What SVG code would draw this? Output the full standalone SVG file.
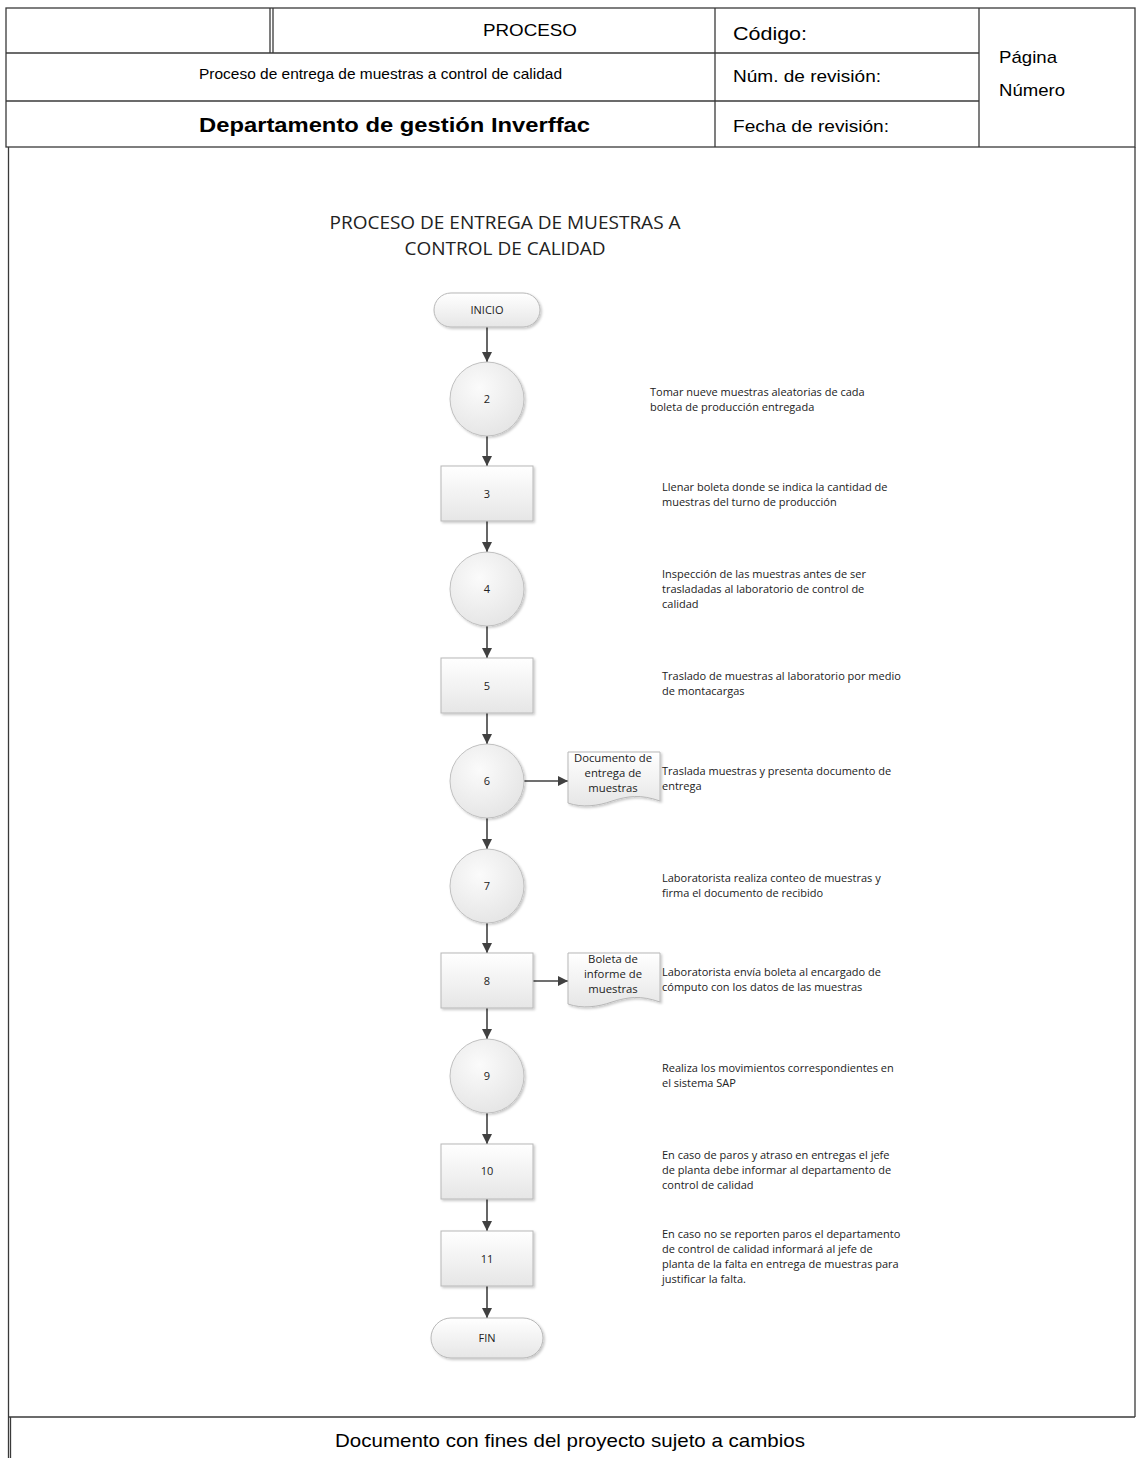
<svg xmlns="http://www.w3.org/2000/svg" width="1137" height="1458" viewBox="0 0 1137 1458">
  <defs>
    <linearGradient id="shapeFill" x1="0" y1="0" x2="0" y2="1">
      <stop offset="0" stop-color="#ffffff"/>
      <stop offset="1" stop-color="#e6e6e6"/>
    </linearGradient>
    <radialGradient id="circleFill" cx="0.4" cy="0.35" r="0.75">
      <stop offset="0" stop-color="#fbfbfb"/>
      <stop offset="1" stop-color="#e3e3e3"/>
    </radialGradient>
    <filter id="shadow" x="-20%" y="-20%" width="150%" height="150%">
      <feDropShadow dx="1.5" dy="1.5" stdDeviation="1" flood-color="#000" flood-opacity="0.22"/>
    </filter>
    <marker id="arrow" viewBox="0 0 10 10" refX="10" refY="5" markerWidth="10" markerHeight="10" markerUnits="userSpaceOnUse" orient="auto">
      <path d="M0,0 L10,5 L0,10 z" fill="#404040"/>
    </marker>
  </defs>
  <style>
    .grid { fill: none; stroke: #3a3a3a; stroke-width: 1.3; }
    .hdr { font-family: "Liberation Sans", Arial, sans-serif; fill: #000; }
    .node { fill: url(#shapeFill); stroke: #b8b8b8; stroke-width: 1; filter: url(#shadow); }
    .circ { fill: url(#circleFill); stroke: #c0c0c0; stroke-width: 1; filter: url(#shadow); }
    .lbl { font-family: "Open Sans", "Liberation Sans", sans-serif; font-size: 11px; fill: #222; text-anchor: middle; }
    .doclbl { font-family: "Open Sans", "Liberation Sans", sans-serif; font-size: 11.3px; fill: #222; text-anchor: middle; }
    .desc { font-family: "Open Sans", "Liberation Sans", sans-serif; font-size: 11px; fill: #222; }
    .title { font-family: "Open Sans", "Liberation Sans", sans-serif; font-size: 19px; fill: #222; text-anchor: middle; }
    .conn { stroke: #404040; stroke-width: 1.6; fill: none; marker-end: url(#arrow); }
  </style>

  <rect width="1137" height="1458" fill="#ffffff"/>

  <!-- Header table -->
  <g id="header">
    <rect class="grid" x="6" y="8" width="1129" height="139"/>
    <line class="grid" x1="6" y1="53" x2="979" y2="53"/>
    <line class="grid" x1="6" y1="101" x2="979" y2="101"/>
    <line class="grid" x1="270" y1="8" x2="270" y2="53"/>
    <line class="grid" x1="273" y1="8" x2="273" y2="53"/>
    <line class="grid" x1="715" y1="8" x2="715" y2="147"/>
    <line class="grid" x1="979" y1="8" x2="979" y2="147"/>
    <text class="hdr" x="483" y="36" font-size="17" textLength="94" lengthAdjust="spacingAndGlyphs">PROCESO</text>
    <text class="hdr" x="199" y="79" font-size="15" textLength="363" lengthAdjust="spacingAndGlyphs">Proceso de entrega de muestras a control de calidad</text>
    <text class="hdr" x="199" y="132" font-size="20" font-weight="bold" textLength="391" lengthAdjust="spacingAndGlyphs">Departamento de gestión Inverffac</text>
    <text class="hdr" x="733" y="40" font-size="19" textLength="74" lengthAdjust="spacingAndGlyphs">Código:</text>
    <text class="hdr" x="733" y="82" font-size="17" textLength="148" lengthAdjust="spacingAndGlyphs">Núm. de revisión:</text>
    <text class="hdr" x="733" y="132" font-size="17" textLength="156" lengthAdjust="spacingAndGlyphs">Fecha de revisión:</text>
    <text class="hdr" x="999" y="63" font-size="17" textLength="58" lengthAdjust="spacingAndGlyphs">Página</text>
    <text class="hdr" x="999" y="96" font-size="17" textLength="66" lengthAdjust="spacingAndGlyphs">Número</text>
  </g>

  <!-- Body frame and footer -->
  <g id="frame">
    <line class="grid" x1="8.5" y1="147" x2="8.5" y2="1458"/>
    <line class="grid" x1="10.5" y1="1417" x2="10.5" y2="1458" stroke="#888"/>
    <line class="grid" x1="1135" y1="147" x2="1135" y2="1417"/>
    <line class="grid" x1="8.5" y1="1417" x2="1135" y2="1417"/>
    <text class="hdr" x="335" y="1447" font-size="19" textLength="470" lengthAdjust="spacingAndGlyphs">Documento con fines del proyecto sujeto a cambios</text>
  </g>

  <!-- Title -->
  <g id="title">
    <text class="title" x="505" y="229">PROCESO DE ENTREGA DE MUESTRAS A</text>
    <text class="title" x="505" y="255">CONTROL DE CALIDAD</text>
  </g>

  <!-- Connectors -->
  <g id="connectors">
    <line class="conn" x1="487" y1="327" x2="487" y2="362"/>
    <line class="conn" x1="487" y1="436" x2="487" y2="466"/>
    <line class="conn" x1="487" y1="521" x2="487" y2="552"/>
    <line class="conn" x1="487" y1="626" x2="487" y2="658"/>
    <line class="conn" x1="487" y1="713" x2="487" y2="744"/>
    <line class="conn" x1="487" y1="818" x2="487" y2="849"/>
    <line class="conn" x1="487" y1="923" x2="487" y2="953"/>
    <line class="conn" x1="487" y1="1008" x2="487" y2="1039"/>
    <line class="conn" x1="487" y1="1113" x2="487" y2="1144"/>
    <line class="conn" x1="487" y1="1199" x2="487" y2="1231"/>
    <line class="conn" x1="487" y1="1286" x2="487" y2="1318"/>
    <line class="conn" x1="524" y1="781" x2="568" y2="781"/>
    <line class="conn" x1="533" y1="981" x2="568" y2="981"/>
  </g>

  <!-- Nodes -->
  <g id="inicio">
    <rect class="node" x="434" y="293" width="106" height="34" rx="17"/>
    <text class="lbl" x="487" y="314">INICIO</text>
  </g>
  <g id="step2">
    <circle class="circ" cx="487" cy="399" r="37"/>
    <text class="lbl" x="487" y="403">2</text>
  </g>
  <g id="step3">
    <rect class="node" x="441" y="466" width="92" height="55"/>
    <text class="lbl" x="487" y="498">3</text>
  </g>
  <g id="step4">
    <circle class="circ" cx="487" cy="589" r="37"/>
    <text class="lbl" x="487" y="593">4</text>
  </g>
  <g id="step5">
    <rect class="node" x="441" y="658" width="92" height="55"/>
    <text class="lbl" x="487" y="690">5</text>
  </g>
  <g id="step6">
    <circle class="circ" cx="487" cy="781" r="37"/>
    <text class="lbl" x="487" y="785">6</text>
  </g>
  <g id="doc6">
    <path class="node" d="M568,752 H660 V801 C640,794 628,796 612,801 C598,806 582,808 568,803 Z"/>
    <text class="doclbl" x="613" y="762">Documento de</text>
    <text class="doclbl" x="613" y="777">entrega de</text>
    <text class="doclbl" x="613" y="792">muestras</text>
  </g>
  <g id="step7">
    <circle class="circ" cx="487" cy="886" r="37"/>
    <text class="lbl" x="487" y="890">7</text>
  </g>
  <g id="step8">
    <rect class="node" x="441" y="953" width="92" height="55"/>
    <text class="lbl" x="487" y="985">8</text>
  </g>
  <g id="doc8">
    <path class="node" d="M568,953 H660 V1002 C640,995 628,997 612,1002 C598,1007 582,1009 568,1004 Z"/>
    <text class="doclbl" x="613" y="963">Boleta de</text>
    <text class="doclbl" x="613" y="978">informe de</text>
    <text class="doclbl" x="613" y="993">muestras</text>
  </g>
  <g id="step9">
    <circle class="circ" cx="487" cy="1076" r="37"/>
    <text class="lbl" x="487" y="1080">9</text>
  </g>
  <g id="step10">
    <rect class="node" x="441" y="1144" width="92" height="55"/>
    <text class="lbl" x="487" y="1175">10</text>
  </g>
  <g id="step11">
    <rect class="node" x="441" y="1231" width="92" height="55"/>
    <text class="lbl" x="487" y="1263">11</text>
  </g>
  <g id="fin">
    <rect class="node" x="431" y="1318" width="112" height="40" rx="20"/>
    <text class="lbl" x="487" y="1342">FIN</text>
  </g>

  <!-- Step descriptions -->
  <g id="descriptions">
    <text class="desc" x="650" y="396">Tomar nueve muestras aleatorias de cada</text>
    <text class="desc" x="650" y="411">boleta de producción entregada</text>
    <text class="desc" x="662" y="491">Llenar boleta donde se indica la cantidad de</text>
    <text class="desc" x="662" y="506">muestras del turno de producción</text>
    <text class="desc" x="662" y="578">Inspección de las muestras antes de ser</text>
    <text class="desc" x="662" y="593">trasladadas al laboratorio de control de</text>
    <text class="desc" x="662" y="608">calidad</text>
    <text class="desc" x="662" y="680">Traslado de muestras al laboratorio por medio</text>
    <text class="desc" x="662" y="695">de montacargas</text>
    <text class="desc" x="662" y="775">Traslada muestras y presenta documento de</text>
    <text class="desc" x="662" y="790">entrega</text>
    <text class="desc" x="662" y="882">Laboratorista realiza conteo de muestras y</text>
    <text class="desc" x="662" y="897">firma el documento de recibido</text>
    <text class="desc" x="662" y="976">Laboratorista envía boleta al encargado de</text>
    <text class="desc" x="662" y="991">cómputo con los datos de las muestras</text>
    <text class="desc" x="662" y="1072">Realiza los movimientos correspondientes en</text>
    <text class="desc" x="662" y="1087">el sistema SAP</text>
    <text class="desc" x="662" y="1159">En caso de paros y atraso en entregas el jefe</text>
    <text class="desc" x="662" y="1174">de planta debe informar al departamento de</text>
    <text class="desc" x="662" y="1189">control de calidad</text>
    <text class="desc" x="662" y="1238">En caso no se reporten paros el departamento</text>
    <text class="desc" x="662" y="1253">de control de calidad informará al jefe de</text>
    <text class="desc" x="662" y="1268">planta de la falta en entrega de muestras para</text>
    <text class="desc" x="662" y="1283">justificar la falta.</text>
  </g>
</svg>
